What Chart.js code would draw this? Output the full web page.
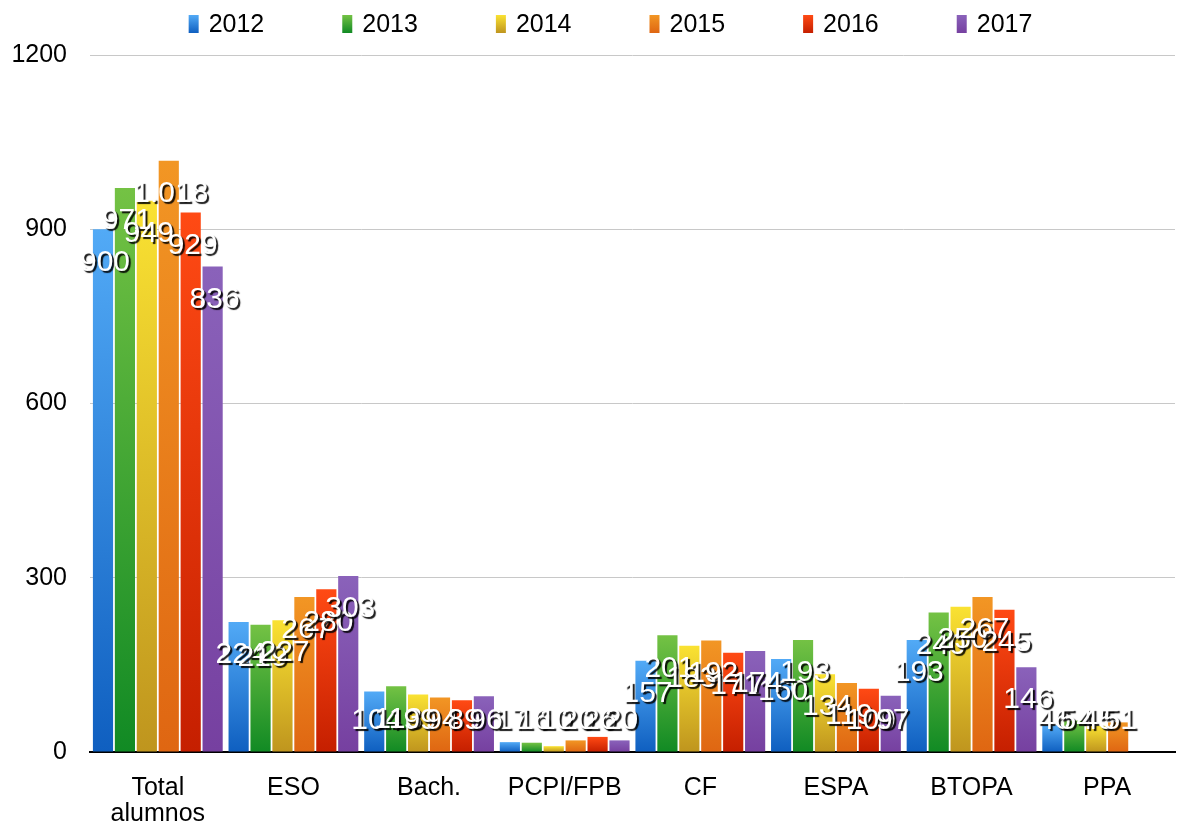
<!DOCTYPE html>
<html>
<head>
<meta charset="utf-8">
<script src="https://cdn.jsdelivr.net/npm/chart.js@4.4.1/dist/chart.umd.min.js"></script>
<style>
  html, body { margin: 0; padding: 0; background: #fff; }
  #wrap { width: 1187px; height: 825px; }
</style>
</head>
<body>
<div id="wrap"><canvas id="chart"></canvas></div>
<script>
// Categories and yearly series
const categories = [["Total", "alumnos"], "ESO", "Bach.", "PCPI/FPB", "CF", "ESPA", "BTOPA", "PPA"];
const years = ["2012", "2013", "2014", "2015", "2016", "2017"];
const v2012 = [900, 224, 104, 17, 157, 160, 193, 46];
const v2013 = [971, 219, 113, 16, 201, 193, 240, 54];
const v2014 = [949, 227, 99, 10, 183, 134, 250, 45];
const v2015 = [1018, 267, 94, 20, 192, 119, 267, 51];
const v2016 = [929, 280, 89, 26, 171, 109, 245, null];
const v2017 = [836, 303, 96, 20, 174, 97, 146, null];
const yTicks = [0, 300, 600, 900, 1200];

// top / bottom colours of each bar gradient
const colorTop = ["#52aaf6", "#74c244", "#fae232", "#f29624", "#ff4a14", "#8a62ba"];
const colorBottom = ["#0f5fc0", "#118a24", "#bf951e", "#df6612", "#c51f00", "#7640a0"];

const series = [v2012, v2013, v2014, v2015, v2016, v2017];
const FONT = "'Liberation Sans', Arial, sans-serif";

function fmt(n) {
  const s = String(n);
  return s.length > 3 ? s.slice(0, -3) + "." + s.slice(-3) : s;
}

function barGradient(ctx, i) {
  const chart = ctx.chart;
  if (!chart.chartArea || ctx.type !== "data") return colorTop[i];
  const y = chart.scales.y;
  const v = ctx.raw;
  if (v == null) return colorTop[i];
  const top = y.getPixelForValue(v);
  const bottom = y.getPixelForValue(0);
  const g = chart.ctx.createLinearGradient(0, top, 0, bottom);
  g.addColorStop(0, colorTop[i]);
  g.addColorStop(1, colorBottom[i]);
  return g;
}

// white labels with a dark shadow, near the top of each bar
const valueLabels = {
  id: "valueLabels",
  afterDatasetsDraw(chart) {
    const ctx = chart.ctx;
    const base = chart.scales.y.getPixelForValue(0);
    ctx.save();
    ctx.font = "30px " + FONT;
    ctx.textAlign = "center";
    ctx.textBaseline = "middle";
    chart.data.datasets.forEach((ds, di) => {
      chart.getDatasetMeta(di).data.forEach((bar, i) => {
        const v = ds.data[i];
        if (v == null) return;
        const y = Math.min(bar.y + 33, base - 31);
        ctx.shadowColor = "rgba(0,0,0,0.9)";
        ctx.shadowOffsetX = 2;
        ctx.shadowOffsetY = 2;
        ctx.shadowBlur = 1;
        ctx.fillStyle = "#fff";
        ctx.fillText(fmt(v), bar.x + 2, y);
      });
    });
    ctx.restore();
  }
};

// legend row across the top
const topLegend = {
  id: "topLegend",
  afterDraw(chart) {
    const ctx = chart.ctx;
    const gap = 78, box = 10, space = 10, cy = 24;
    ctx.save();
    ctx.font = "25px " + FONT;
    ctx.textBaseline = "middle";
    const widths = years.map(y => box + space + ctx.measureText(y).width);
    const total = widths.reduce((a, b) => a + b, 0) + gap * (years.length - 1);
    const area = chart.chartArea;
    let x = (area.left + area.right) / 2 - 22 - total / 2;
    years.forEach((yr, i) => {
      const g = ctx.createLinearGradient(0, cy - 9, 0, cy + 9);
      g.addColorStop(0, colorTop[i]);
      g.addColorStop(1, colorBottom[i]);
      ctx.fillStyle = g;
      ctx.fillRect(x, cy - 9, box, 18);
      ctx.fillStyle = "#000";
      ctx.fillText(yr, x + box + space, cy + 1);
      x += widths[i] + gap;
    });
    ctx.restore();
  }
};

new Chart(document.getElementById("chart"), {
  type: "bar",
  data: {
    labels: categories,
    datasets: years.map((yr, i) => ({
      label: yr,
      data: series[i],
      backgroundColor: ctx => barGradient(ctx, i),
      borderWidth: 0,
      barPercentage: 0.92,
      categoryPercentage: 0.97
    }))
  },
  options: {
    responsive: true,
    maintainAspectRatio: false,
    animation: false,
    layout: { padding: { left: 10, right: 12, top: 55, bottom: 0 } },
    plugins: {
      legend: { display: false },
      tooltip: { enabled: false }
    },
    scales: {
      x: {
        grid: { display: false },
        border: { display: true, color: "#000", width: 2 },
        afterFit(axis) { axis.height = 73; },
        ticks: {
          color: "#000",
          padding: 15,
          maxRotation: 0,
          font: { family: FONT, size: 25, lineHeight: 1.05 }
        }
      },
      y: {
        min: 0,
        max: 1200,
        afterBuildTicks(axis) { axis.ticks = yTicks.map(v => ({ value: v })); },
        afterFit(axis) { axis.width = 80; },
        grid: { color: "#c8c8c8", lineWidth: 1, drawTicks: false },
        border: { display: false },
        ticks: {
          color: "#000",
          padding: 23,
          callback: v => String(v),
          font: { family: FONT, size: 25 }
        }
      }
    }
  },
  plugins: [valueLabels, topLegend]
});
</script>
</body>
</html>
